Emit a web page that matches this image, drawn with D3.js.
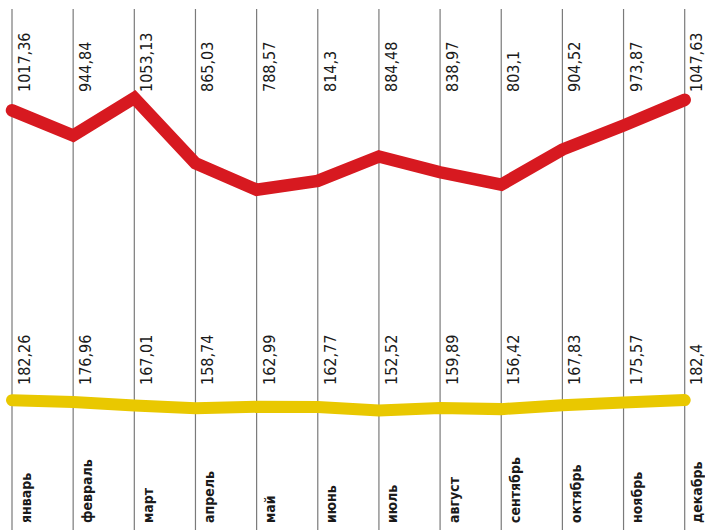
<!DOCTYPE html>
<html>
<head>
<meta charset="utf-8">
<script src="https://cdn.jsdelivr.net/npm/d3@7"></script>
<style>
  body { margin: 0; background: #fff; }
  svg { display: block; }
  .val { font-family: "DejaVu Sans Condensed", "DejaVu Sans", sans-serif; font-size: 16px; fill: #1a1a1a; }
  .month { font-family: "DejaVu Sans Condensed", "DejaVu Sans", sans-serif; font-size: 14px; font-weight: bold; fill: #1a1a1a; }
</style>
</head>
<body>
<div id="chart"></div>
<script>
// data
const months = ["январь", "февраль", "март", "апрель", "май", "июнь", "июль", "август", "сентябрь", "октябрь", "ноябрь", "декабрь"];
const redValues = [1017.36, 944.84, 1053.13, 865.03, 788.57, 814.3, 884.48, 838.97, 803.1, 904.52, 973.87, 1047.63];
const yellowValues = [182.26, 176.96, 167.01, 158.74, 162.99, 162.77, 152.52, 159.89, 156.42, 167.83, 175.57, 182.4];

const width = 705;
const height = 530;

const svg = d3.select("#chart").append("svg")
    .attr("width", width)
    .attr("height", height);

const x = d3.scalePoint()
    .domain(months)
    .range([12, 684.7]);

const y = d3.scaleLinear()
    .domain([0, 1100])
    .range([463.4, 81.7]);

const fmt = v => String(v).replace(".", ",");

// keep the last column's labels inside the picture
const labelX = (m, off) => Math.min(x(m) + off, width - 3.5);

// vertical grid lines
svg.append("g")
  .selectAll("line")
  .data(months)
  .enter().append("line")
    .attr("x1", d => x(d))
    .attr("x2", d => x(d))
    .attr("y1", 9)
    .attr("y2", height)
    .attr("stroke", "#7a7a7a")
    .attr("stroke-width", 1.2);

const line = d3.line()
    .x((d, i) => x(months[i]))
    .y(d => y(d));

svg.append("path")
    .datum(yellowValues)
    .attr("d", line)
    .attr("fill", "none")
    .attr("stroke", "#e9c800")
    .attr("stroke-width", 12)
    .attr("stroke-linecap", "round")
    .attr("stroke-linejoin", "miter");

svg.append("path")
    .datum(redValues)
    .attr("d", line)
    .attr("fill", "none")
    .attr("stroke", "#d71920")
    .attr("stroke-width", 12.5)
    .attr("stroke-linecap", "round")
    .attr("stroke-linejoin", "miter");

// value labels (rotated)
function labels(values, yStart) {
  svg.append("g")
    .selectAll("text")
    .data(values)
    .enter().append("text")
      .attr("class", "val")
      .attr("transform", (d, i) => `translate(${labelX(months[i], 18)},${yStart}) rotate(-90)`)
      .text(d => fmt(d));
}
labels(redValues, 92);
labels(yellowValues, 385);

// month labels
svg.append("g")
  .selectAll("text")
  .data(months)
  .enter().append("text")
    .attr("class", "month")
    .attr("transform", d => `translate(${labelX(d, 18.5)},523) rotate(-90)`)
    .text(d => d);
</script>
</body>
</html>
